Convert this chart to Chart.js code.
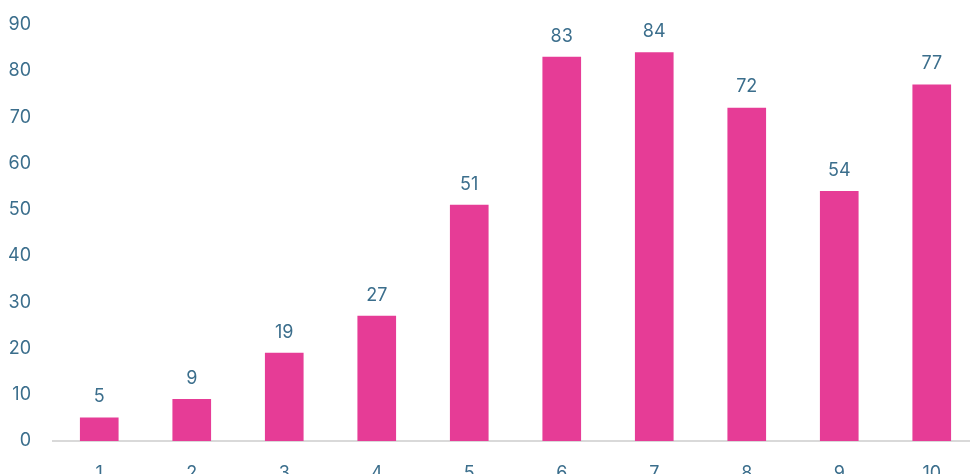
<!DOCTYPE html>
<html>
<head>
<meta charset="utf-8">
<script src="https://cdn.jsdelivr.net/npm/chart.js@4"></script>
<style>
  html, body { margin: 0; padding: 0; background: #fff; overflow: hidden; }
  #wrap { width: 990px; height: 500px; }
</style>
</head>
<body>
<div id="wrap"><canvas id="barChart" width="990" height="500"></canvas></div>
<script>
// chart data
const categories = ['1', '2', '3', '4', '5', '6', '7', '8', '9', '10'];
const values = [5, 9, 19, 27, 51, 83, 84, 72, 54, 77];
const yTicks = [0, 10, 20, 30, 40, 50, 60, 70, 80, 90];

const barColor = '#e63c96';
const textColor = '#3b6e8c';
const fontFamily = 'Inter, "Open Sans", sans-serif';

// value labels drawn above each bar
const barValueLabels = {
    id: 'barValueLabels',
    afterDatasetsDraw(chart) {
        const { ctx } = chart;
        const meta = chart.getDatasetMeta(0);
        ctx.save();
        ctx.fillStyle = textColor;
        ctx.font = '18px ' + fontFamily;
        ctx.textAlign = 'center';
        ctx.textBaseline = 'bottom';
        meta.data.forEach((bar, i) => {
            ctx.fillText(String(values[i]), bar.x, bar.y - 12);
        });
        ctx.restore();
    }
};

new Chart(document.getElementById('barChart'), {
    type: 'bar',
    data: {
        labels: categories,
        datasets: [{
            data: values,
            backgroundColor: barColor,
            borderWidth: 0,
            barThickness: 38
        }]
    },
    options: {
        responsive: false,
        animation: false,
        layout: { padding: { top: 13, right: 12, left: 0, bottom: 0 } },
        plugins: {
            legend: { display: false },
            tooltip: { enabled: false }
        },
        scales: {
            x: {
                grid: { display: false },
                border: { display: true, color: '#d9d9d9', width: 2 },
                ticks: {
                    color: textColor,
                    font: { size: 18, family: fontFamily },
                    padding: 14,
                    maxRotation: 0
                },
                afterFit(scale) { scale.height = 59; }
            },
            y: {
                min: 0,
                max: 90,
                afterBuildTicks(scale) { scale.ticks = yTicks.map(v => ({ value: v })); },
                grid: { display: false },
                border: { display: false },
                ticks: {
                    color: textColor,
                    font: { size: 18, family: fontFamily },
                    padding: 14
                },
                afterFit(scale) { scale.width = 53; }
            }
        }
    },
    plugins: [barValueLabels]
});
</script>
</body>
</html>
